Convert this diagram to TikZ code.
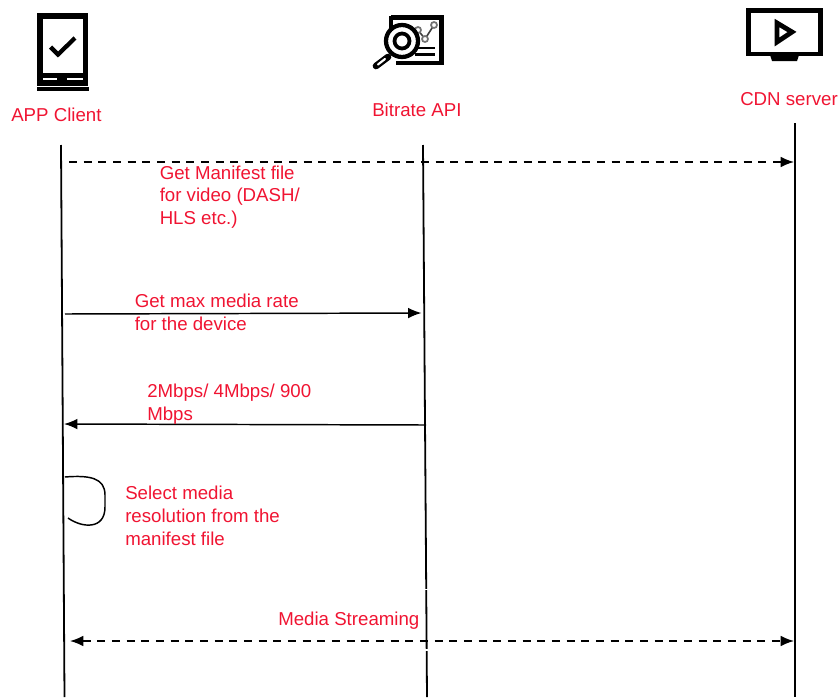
\documentclass[tikz,border=0pt]{standalone}
\usepackage{fontspec}
\setmainfont{Liberation Sans}
\usetikzlibrary{arrows.meta}
\definecolor{lab}{RGB}{240,20,50}
\tikzset{
 x=0.75pt,y=-0.75pt,
 lab/.style={text=lab,font=\fontsize{14}{17}\selectfont,inner sep=0pt,align=left,anchor=north west},
 life/.style={draw=black,line width=1.35pt},
 msg/.style={draw=black,line width=1.1pt,-{Latex[length=10pt,width=8pt]}},
 dmsg/.style={msg,dash pattern=on 6pt off 5pt},
}
\begin{document}
\begin{tikzpicture}
\useasboundingbox (0,0) rectangle (840,700);
% app icon
\draw[black,line width=3.8pt] (40,16) rectangle (85.5,83);
\draw[black,line width=2.4pt] (37,89) -- (88.5,89);
\fill[black] (42,73) rectangle (84,78);
\fill[black] (57,78) rectangle (67,83);
\draw[black,line width=3.2pt] (50.5,47) -- (58,54.5) -- (75,38);
% bitrate icon
\draw[black!75,line width=1.2pt] (418,30) -- (425,39) -- (434,25);
\foreach \p in {(418,30),(425,39),(434,25)} \draw[black!55,line width=1.3pt,fill=white] \p circle (3);
\draw[black,line width=3.6pt] (391,17.5) -- (441.5,17.5) -- (441.5,63) -- (396,63);
\draw[black,line width=2.6pt] (391,16) -- (391,28);
\draw[black,line width=1.6pt] (415,48) -- (435,48) (415,54.5) -- (435,54.5);
\draw[black,line width=3.2pt,fill=white] (402,41) circle (16);
\draw[black,line width=2.8pt] (402,41) circle (7.5);
\draw[black,line width=5pt,line cap=round] (388,57) -- (376,66);
\draw[white,line width=1.6pt,line cap=round] (385,59) -- (378,64.5);
% cdn icon
\draw[black,line width=3.4pt] (748.5,10.5) rectangle (820.5,54);
\fill[black] (770,55) -- (799,55) -- (797,61) -- (772,61) -- cycle;
\draw[black,line width=3.6pt,line join=miter] (777,23) -- (792,32) -- (777,42) -- cycle;
% labels
\node[lab,anchor=base west] (appl) at (11,121) {APP Client};
\node[lab,anchor=base west] (bitl) at (372,116) {Bitrate API};
\node[lab,anchor=base west] (cdnl) at (740,105) {CDN server};
% lifelines
\coordinate (a0) at (61,145); \coordinate (a1) at (64.5,697);
\coordinate (b0) at (423,145); \coordinate (b1) at (427,697);
\coordinate (c0) at (795,123); \coordinate (c1) at (795,697);
\draw[life] (a0) -- (a1);
\draw[life] (b0) -- (b1);
\draw[life] (c0) -- (c1);
% messages
\coordinate (m1a) at (69,162); \coordinate (m1c) at (794,162);
\coordinate (m2a) at (65,314); \coordinate (m2b) at (421.5,313);
\coordinate (m3b) at (426,425); \coordinate (m3a) at (64,424);
\coordinate (m4a) at (70,641); \coordinate (m4c) at (794,641);
\draw[dmsg] (m1a) -- (m1c);
\draw[msg] (m2a) -- (m2b);
\draw[msg] (m3b) -- (m3a);
\draw[dmsg,{Latex[length=10pt,width=8pt]}-{Latex[length=10pt,width=8pt]}] (m4a) -- (m4c);
% self loop
\coordinate (s0) at (65,477); \coordinate (s1) at (68,518);
\draw[black,line width=1.1pt] (s0) .. controls (90,475) and (105,478) .. (105,495)
  -- (105,507) .. controls (105,530) and (82,528) .. (s1);
% texts
\node[lab] (t1) at (159.5,165.5) {Get Manifest file\\for video (DASH/\\HLS etc.)};
\node[lab] (t2) at (134.5,294) {Get max media rate\\for the device};
\node[lab] (t3) at (147,384) {2Mbps/ 4Mbps/ 900\\Mbps};
\node[lab] (t4) at (125,486) {Select media\\resolution from the\\manifest file};
\node[lab] (t5) at (278,611.5) {Media Streaming};
% white notches in the bitrate lifeline
\draw[white,line width=1pt] (424,589.5) -- (429,589.5) (424,650) -- (429,650);
\end{tikzpicture}
\end{document}
